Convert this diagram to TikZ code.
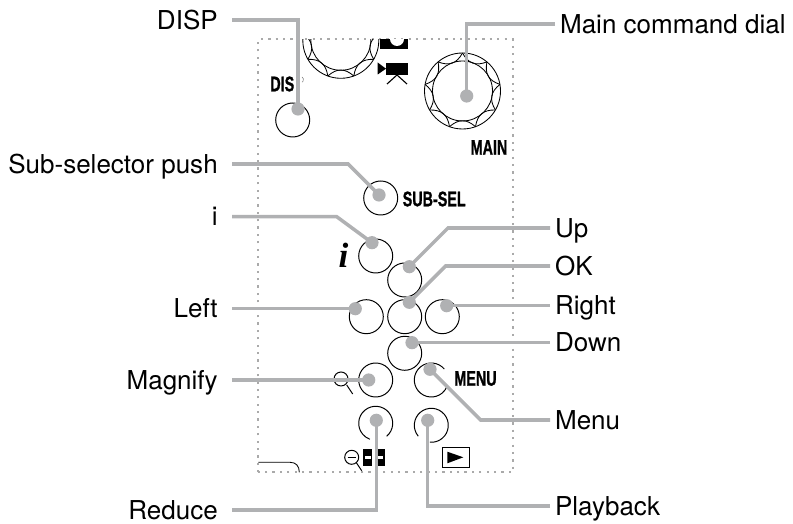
\documentclass[tikz,border=0pt]{standalone}
\usepackage{fontspec}
\setmainfont{TeX Gyre Heros}
\newfontfamily\iconfont{Liberation Serif}
\newfontfamily\panelfont[BoldFeatures={FakeBold=1.2}]{Liberation Sans}
\newcommand{\narrowtext}[1]{\scalebox{0.68}[1]{#1}}
\newcommand{\dialknob}[2]{
\draw [knob] (#1,#2) circle [radius=38];
\draw [knob] (#1,#2) circle [radius=30];
\foreach \ang in {10,50,90,130,170,210,250,290,330}
  \draw [knob] ($(#1,#2)+(\ang:38)$) .. controls ($(#1,#2)+(\ang+12:28)$) and ($(#1,#2)+(\ang+28:28)$) .. ($(#1,#2)+(\ang+40:38)$);
}
\usetikzlibrary{calc}
\tikzset{
  knob/.style={black, line width=0.6pt},
  button/.style={black, line width=0.7pt},
  leader/.style={draw=leadgray, line width=2.5pt},
  dot/.style={circle, fill=leadgray, inner sep=0, minimum size=0.33cm},
  lefttext/.style={anchor=east, inner xsep=0.35cm, inner ysep=0, font=\fontsize{18.5}{20}\selectfont, text height=0.46cm, text depth=0},
  righttext/.style={anchor=west, inner xsep=0.12cm, inner ysep=0, font=\fontsize{18.5}{20}\selectfont, text height=0.46cm, text depth=0},
  panel/.style={inner sep=0, font=\panelfont\fontsize{15}{15}\selectfont\bfseries}
}
\definecolor{leadgray}{RGB}{176,177,179}
\definecolor{framegray}{RGB}{170,170,170}
\begin{document}
\begin{tikzpicture}[x=0.025cm,y=0.025cm]
\useasboundingbox (0,0) rectangle (793,524);
\draw [framegray, line width=1.6pt, dash pattern=on 1.6pt off 3.65pt] (258.3,51.7) rectangle (512.7,484.7);

\begin{scope}
\clip (258.3,420) rectangle (512.7,484.7);
\dialknob{340.8}{483.7}
\fill [black] (380,475) rectangle (408,485);
\fill [white] (397,485) circle [radius=7];
\end{scope}
\dialknob{462.5}{433}
\fill [black] (386,449) rectangle (408,461.3);
\fill [black] (377.7,461.5) -- (386,455.3) -- (377.7,449.5) -- cycle;
\draw [black, line width=0.8pt] (387,440) -- (397,449) -- (407,440);
\draw [gray, line width=0.4pt] (302,447) arc [start angle=60, end angle=-60, radius=3];

\draw [button] (292.7,404) circle [radius=17];
\draw [button] (380.7,326) circle [radius=17];
\draw [button] (375.7,268) circle [radius=17];
\draw [button] (404.7,244) circle [radius=17];
\draw [button] (404.7,207.3) circle [radius=17];
\draw [button] (366.3,207.3) circle [radius=17];
\draw [button] (442.3,207.3) circle [radius=17];
\draw [button] (404.7,170.7) circle [radius=17];
\draw [button] (375.7,144) circle [radius=17];
\draw [button] (431.3,144) ++(40:17) arc [start angle=40, end angle=340, radius=17];
\draw [button] (375.7,100.7) ++(-50:17) arc [start angle=-50, end angle=250, radius=17];
\draw [button] (431.3,98.7) ++(-95:17) arc [start angle=-95, end angle=220, radius=17];

\node [panel] (textDis) at (282.3,440) {\narrowtext{DIS}};
\node [panel] (textMain) at (489,376.5) {\narrowtext{MAIN}};
\node [panel] (textSub) at (434.2,325) {\narrowtext{SUB-SEL}};
\node [panel] (textMenu) at (475.5,145.5) {\narrowtext{MENU}};
\node [inner sep=0, font=\iconfont\fontsize{25}{25}\selectfont\bfseries\itshape] (textI) at (343.5,269) {i};

\draw [black, line width=0.7pt] (341,145) circle [radius=7];
\draw [black, line width=0.7pt] (346.7,139) -- (352.7,130);
\draw [black, line width=0.7pt] (351.7,66.7) circle [radius=7];
\draw [black, line width=0.7pt] (347.5,66.7) -- (356,66.7);
\draw [black, line width=0.7pt] (356.5,61) -- (361.7,53.3);
\fill [black] (362.7,57.5) rectangle (372.3,74.5);
\fill [black] (376,57.5) rectangle (384.5,74.5);
\fill [white] (364.5,65) rectangle (371,67.5);
\fill [white] (377.5,65) rectangle (383,67.5);
\draw [black, line width=0.7pt] (442.3,56.7) rectangle (469.3,76.7);
\fill [black] (447.3,60.7) -- (463.3,66.7) -- (447.3,72.3) -- cycle;
\draw [black, line width=0.6pt] (258.3,61.7) -- (290,61.7) .. controls (296,61.7) and (299.3,58) .. (299.3,51.7);

\node [lefttext] (labelDisp) at (232,504) {DISP};
\node [lefttext] (labelSub) at (232,360) {Sub-selector push};
\node [lefttext] (labelI) at (232,307.3) {i};
\node [lefttext] (labelLeft) at (232,215.3) {Left};
\node [lefttext] (labelMagnify) at (232,144) {Magnify};
\node [lefttext] (labelReduce) at (232,14) {Reduce};
\node [righttext] (labelMain) at (555,500) {Main command dial};
\node [righttext] (labelUp) at (550,296) {Up};
\node [righttext] (labelOk) at (550,258) {OK};
\node [righttext] (labelRight) at (550,218.3) {Right};
\node [righttext] (labelDown) at (550,181.3) {Down};
\node [righttext] (labelMenu) at (550,104) {Menu};
\node [righttext] (labelPlay) at (550,18) {Playback};

\node [dot] (dotDisp) at (298,415) {};
\node [dot] (dotMain) at (466.7,428) {};
\node [dot] (dotSub) at (379,329) {};
\node [dot] (dotI) at (372,281.3) {};
\node [dot] (dotUp) at (409.3,257.3) {};
\node [dot] (dotOk) at (409.3,221.7) {};
\node [dot] (dotLeft) at (355.3,215.3) {};
\node [dot] (dotRight) at (446.7,218.3) {};
\node [dot] (dotDown) at (412,181.3) {};
\node [dot] (dotMagnify) at (368.7,144) {};
\node [dot] (dotMenu) at (430,154.7) {};
\node [dot] (dotReduce) at (376.3,103.7) {};
\node [dot] (dotPlay) at (427.7,103.7) {};

\coordinate (bendSub) at (348,360);
\coordinate (bendI) at (336.7,307.3);
\coordinate (bendUp) at (448,296);
\coordinate (bendOk) at (445.7,258);
\coordinate (bendMenu) at (480.7,104);

\draw [leader] (labelDisp.east) -| (dotDisp.center);
\draw [leader] (labelMain.west) -| (dotMain.center);
\draw [leader] (labelSub.east) -- (bendSub) -- (dotSub.center);
\draw [leader] (labelI.east) -- (bendI) -- (dotI.center);
\draw [leader] (labelUp.west) -- (bendUp) -- (dotUp.center);
\draw [leader] (labelOk.west) -- (bendOk) -- (dotOk.center);
\draw [leader] (labelLeft.east) -- (dotLeft.center);
\draw [leader] (labelRight.west) -- (dotRight.center);
\draw [leader] (labelDown.west) -- (dotDown.center);
\draw [leader] (labelMagnify.east) -- (dotMagnify.center);
\draw [leader] (labelMenu.west) -- (bendMenu) -- (dotMenu.center);
\draw [leader] (labelReduce.east) -| (dotReduce.center);
\draw [leader] (labelPlay.west) -| (dotPlay.center);
\end{tikzpicture}
\end{document}
